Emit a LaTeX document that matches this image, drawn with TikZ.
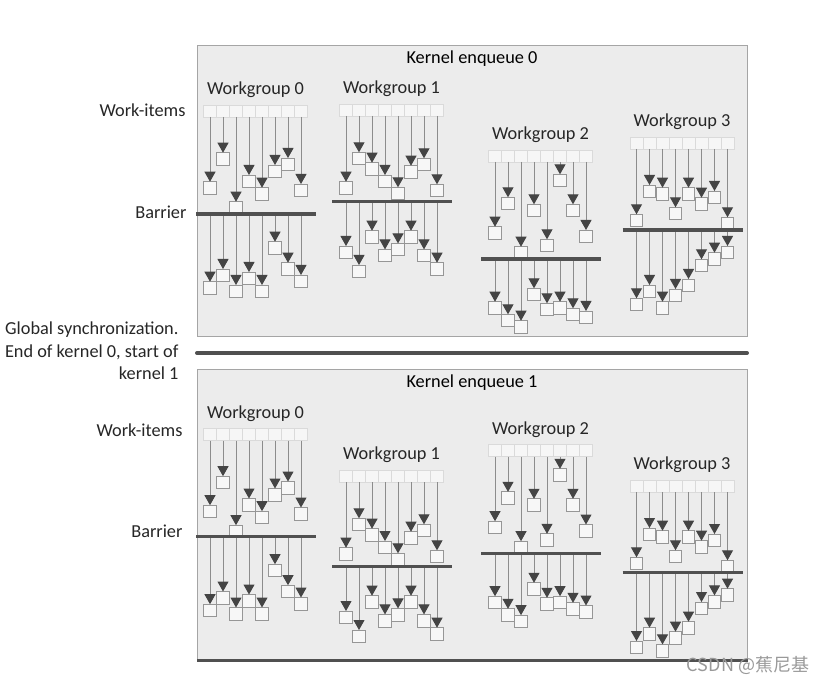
\documentclass[tikz,border=0pt]{standalone}
\usepackage{fontspec}
\setmainfont{Carlito}
\newfontfamily\cjk{Noto Sans CJK SC}
\definecolor{panelgray}{RGB}{236,236,236}
\definecolor{paneledge}{RGB}{165,165,165}
\definecolor{itemfill}{RGB}{246,246,246}
\definecolor{itemedge}{RGB}{218,218,218}
\definecolor{resultedge}{RGB}{150,150,150}
\definecolor{linegray}{RGB}{140,140,140}
\definecolor{tipdark}{RGB}{68,68,68}
\definecolor{barriergray}{RGB}{80,80,80}
\usetikzlibrary{arrows.meta}

% one workgroup: name, x of first column, top of work-item row,
% barrier offset, result offsets before and after the barrier, label
\newcommand{\workgroup}[7]{%
  \node[wglabel] (#1-lbl) at ({#2+45.5},{#3-15}) {#7};
  \foreach \off [count=\c from 0] in {#5} {
    \node[item] (#1-i\c) at ({#2+13*\c},{#3+6}) {};
    \node[result] (#1-a\c) at ({#2+13*\c},{#3+\off+6.25}) {};
    \draw[arr] (#1-i\c) -- (#1-a\c);
  }
  \foreach \off [count=\c from 0] in {#6} {
    \coordinate (#1-b\c) at ({#2+13*\c},{#3+#4});
    \node[result] (#1-r\c) at ({#2+13*\c},{#3+#4+\off+6.25}) {};
    \draw[arr] (#1-b\c) -- (#1-r\c);
  }
  \coordinate (#1-bl) at ({#2-14},{#3+#4});
  \coordinate (#1-br) at ({#2+13*7+15},{#3+#4});
  \draw[barrier] (#1-bl) -- (#1-br);
}

\begin{document}
\begin{tikzpicture}[
  x=1pt, y=-1pt,
  every node/.style={font=\fontsize{18.3}{22.5}\selectfont},
  panel/.style={fill=panelgray, draw=paneledge, line width=0.8pt},
  wglabel/.style={text=black!85},
  sidelabel/.style={anchor=east, text=black!85},
  item/.style={rectangle, minimum width=13pt, minimum height=12pt, inner sep=0pt, outer sep=0pt, fill=itemfill, draw=itemedge, line width=0.6pt},
  result/.style={rectangle, minimum size=12.5pt, inner sep=0pt, outer sep=0pt, fill=white!97!black, draw=resultedge, line width=0.8pt},
  arr/.style={-{Triangle[width=11pt,length=10pt,color=tipdark]}, linegray, line width=1pt},
  barrier/.style={barriergray, line width=3.5pt},
  sync/.style={barriergray, line width=4pt, line cap=round}
]
  \useasboundingbox (0,0) rectangle (829,684);

  % kernel 0
  \draw[panel] (197,45) rectangle (747,336);
  \node (k0title) at (472,59) {Kernel enqueue 0};
  \node[sidelabel] (k0items) at (189,110) {Work-items};
  \node[sidelabel] (k0barrier) at (190,212) {Barrier};
  \workgroup{k0w0}{210}{105}{109}{76.7,47.7,96.7,70,82.7,60,53,79}{67.7,55,71,58,71,27.7,48.7,61}{Workgroup 0}
  \workgroup{k0w1}{346}{104}{97.7}{77.7,48.3,58.7,71,83.3,61.7,54.3,80.3}{44.3,63.3,29,47.7,41.7,29,47.7,61}{Workgroup 1}
  \workgroup{k0w2}{495}{150}{109}{76.7,47.3,96.7,54.3,89.3,24.3,54.3,80}{42.7,55.3,61.7,29.3,44.3,42.7,49.3,52}{Workgroup 2}
  \workgroup{k0w3}{636.5}{137}{93}{77.3,48,50.7,70.3,50.7,60.7,54,80.3}{68.3,55,71.7,59,49,29.3,22.7,16}{Workgroup 3}

  % global synchronization
  \node[sidelabel, align=right] (synclabel) at (182,351) {Global synchronization.\\End of kernel 0, start of\\kernel 1};
  \coordinate (sync0) at (197,353);
  \coordinate (sync1) at (747,353);
  \draw[sync] (sync0) -- (sync1);

  % kernel 1
  \draw[panel] (197,369) rectangle (747,660);
  \node (k1title) at (472,383) {Kernel enqueue 1};
  \node[sidelabel] (k1items) at (186,430) {Work-items};
  \node[sidelabel] (k1barrier) at (186,531) {Barrier};
  \workgroup{k1w0}{210}{428.5}{108}{76.7,47.7,96.7,70,82.7,60,53,79}{67.7,55,71,58,71,27.7,48.7,61}{Workgroup 0}
  \workgroup{k1w1}{346}{470}{96.7}{77.7,48.3,58.7,71,83.3,61.7,54.3,80.3}{44.3,63.3,29,47.7,41.7,29,47.7,61}{Workgroup 1}
  \workgroup{k1w2}{495}{444.5}{109}{76.7,47.3,96.7,54.3,89.3,24.3,54.3,80}{42.7,55.3,61.7,29.3,44.3,42.7,49.3,52}{Workgroup 2}
  \workgroup{k1w3}{636.5}{480}{92.7}{77.3,48,50.7,70.3,50.7,60.7,54,80.3}{68.3,55,71.7,59,49,29.3,22.7,16}{Workgroup 3}

  \coordinate (end0) at (197,660);
  \coordinate (end1) at (748,660);
  \draw[barriergray, line width=3pt] (end0) -- (end1);

  \node[text=black!40] (mark) at (748,665) {\cjk\fontsize{18}{20}\selectfont CSDN @蕉尼基};
\end{tikzpicture}
\end{document}
